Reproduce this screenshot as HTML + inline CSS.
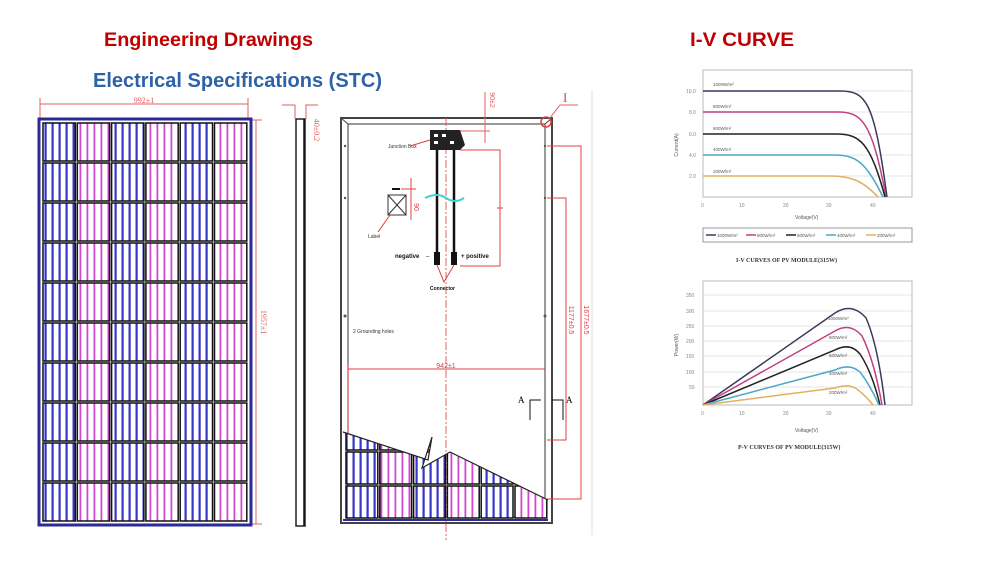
<!DOCTYPE html>
<html><head><meta charset="utf-8"><style>
html,body{margin:0;padding:0;background:#fff;width:996px;height:578px;overflow:hidden}
svg{display:block}
</style></head><body>
<svg width="996" height="578" viewBox="0 0 996 578" xmlns="http://www.w3.org/2000/svg" font-family="Liberation Sans, sans-serif">
<defs>
<pattern id="pb" width="7" height="10" patternUnits="userSpaceOnUse"><rect width="7" height="10" fill="#fff"/><rect x="2.5" width="2.2" height="10" fill="#3535c8"/></pattern>
<pattern id="pp" width="7" height="10" patternUnits="userSpaceOnUse"><rect width="7" height="10" fill="#fff"/><rect x="2.5" width="1.8" height="10" fill="#d048d0"/></pattern>
<clipPath id="cut"><polygon points="343,432 428,460 432,437 422,468 450,452 548,500 548,525 343,525"/></clipPath>
</defs>

<!-- titles -->
<text x="104" y="46" font-size="19" font-weight="bold" fill="#c00000" textLength="209" lengthAdjust="spacingAndGlyphs">Engineering Drawings</text>
<text x="93" y="87" font-size="20" font-weight="bold" fill="#2e62a8" textLength="289" lengthAdjust="spacingAndGlyphs">Electrical Specifications (STC)</text>
<text x="690" y="46" font-size="19" font-weight="bold" fill="#c00000" textLength="104" lengthAdjust="spacingAndGlyphs">I-V CURVE</text>

<!-- LEFT PANEL -->
<line x1="40" y1="104" x2="248" y2="104" stroke="#e06060" stroke-width="1"/>
<line x1="40" y1="98" x2="40" y2="118" stroke="#e06060"/>
<line x1="248" y1="98" x2="248" y2="118" stroke="#e06060"/>
<text x="144" y="103" font-size="8" fill="#e06060" text-anchor="middle" font-family="Liberation Serif, serif">992±1</text>
<line x1="256" y1="120" x2="256" y2="524" stroke="#e06060"/>
<line x1="250" y1="120" x2="262" y2="120" stroke="#e06060"/>
<line x1="250" y1="524" x2="262" y2="524" stroke="#e06060"/>
<text x="0" y="0" font-size="8" fill="#e06060" font-family="Liberation Serif, serif" transform="translate(261,322) rotate(90)" text-anchor="middle">1957±1</text>
<rect x="39" y="119" width="212" height="406" fill="#fff" stroke="#2a2a9a" stroke-width="3"/>
<g id="cells"></g>

<!-- SIDE VIEW -->
<rect x="296" y="119" width="9" height="407" fill="#fff" stroke="#222" stroke-width="1.5"/>
<line x1="304" y1="119" x2="304" y2="526" stroke="#111" stroke-width="1.5"/>
<path d="M282,105 L295,105 L295,119 M318,105 L306,105 L306,119" fill="none" stroke="#e06060"/>
<text x="0" y="0" font-size="8" fill="#e06060" font-family="Liberation Serif, serif" transform="translate(314,130) rotate(90)" text-anchor="middle">40±0.2</text>

<!-- BACK VIEW -->
<rect x="341" y="118" width="211" height="405" fill="#fff" stroke="#444" stroke-width="2"/>
<rect x="348" y="124" width="197" height="393" fill="none" stroke="#555" stroke-width="1.2"/>
<line x1="341" y1="118" x2="348" y2="124" stroke="#444"/>
<line x1="552" y1="118" x2="545" y2="124" stroke="#444"/>
<g fill="#555"><circle cx="345" cy="146" r="1.2"/><circle cx="345" cy="198" r="1.2"/><circle cx="345" cy="316" r="1.5"/><circle cx="545" cy="146" r="1.2"/><circle cx="545" cy="198" r="1.2"/><circle cx="545" cy="316" r="1.5"/></g>
<circle cx="546" cy="122" r="5" fill="none" stroke="#e04040" stroke-width="1.5"/>
<path d="M550,118 L560,105 L578,105" fill="none" stroke="#e06060"/>
<text x="563" y="102" font-size="13" fill="#e04040" font-family="Liberation Serif, serif">I</text>
<line x1="446" y1="118" x2="446" y2="540" stroke="#e06060" stroke-dasharray="8,2,2,2"/>
<line x1="485" y1="92" x2="485" y2="143" stroke="#e06060"/>
<line x1="455" y1="131" x2="490" y2="131" stroke="#e06060"/>
<text x="0" y="0" font-size="7" fill="#e06060" transform="translate(490,100) rotate(90)" text-anchor="middle">90±2</text>
<path d="M430,130 L460,130 L465,145 L460,150 L430,150 Z" fill="#222"/>
<g fill="#fff"><rect x="434" y="134" width="4" height="3"/><rect x="442" y="134" width="4" height="3"/><rect x="434" y="141" width="4" height="3"/><rect x="450" y="141" width="4" height="3"/></g>
<text x="388" y="148" font-size="5" fill="#333">Junction Box</text>
<line x1="410" y1="146" x2="430" y2="140" stroke="#e04040"/>
<line x1="437" y1="150" x2="437" y2="255" stroke="#111" stroke-width="2.5"/>
<line x1="454" y1="150" x2="454" y2="255" stroke="#111" stroke-width="2.5"/>
<rect x="434" y="252" width="6" height="13" fill="#111"/>
<rect x="451" y="252" width="6" height="13" fill="#111"/>
<text x="395" y="258" font-size="6" font-weight="bold" fill="#111">negative</text>
<text x="426" y="258" font-size="6" fill="#111">–</text>
<text x="461" y="258" font-size="6" font-weight="bold" fill="#111">+ positive</text>
<path d="M437,265 L444,282 L454,265" fill="none" stroke="#e04040"/>
<text x="430" y="290" font-size="5" font-weight="bold" fill="#111">Connector</text>
<path d="M425,198 Q437,192 446,198 Q455,204 464,198" fill="none" stroke="#40d0d0" stroke-width="2"/>
<path d="M460,150 L500,150 L500,266 L460,266" fill="none" stroke="#e04040"/>
<line x1="497" y1="208" x2="503" y2="208" stroke="#e04040"/>
<rect x="388" y="195" width="18" height="20" fill="#fff" stroke="#333"/>
<path d="M388,195 L406,215 M406,195 L388,215" stroke="#333"/>
<text x="368" y="238" font-size="5" fill="#333">Label</text>
<line x1="378" y1="232" x2="390" y2="215" stroke="#e04040"/>
<rect x="392" y="188" width="8" height="2" fill="#111"/>
<line x1="401" y1="189" x2="416" y2="189" stroke="#e04040"/>
<line x1="411" y1="178" x2="411" y2="220" stroke="#e04040"/>
<text x="0" y="0" font-size="7" fill="#e04040" transform="translate(414,207) rotate(90)" text-anchor="middle">90</text>
<text x="353" y="333" font-size="5" fill="#333">2 Grounding holes</text>
<path d="M547,146 L581,146 L581,499 L547,499" fill="none" stroke="#e04040"/>
<path d="M547,198 L566,198 L566,440 L547,440" fill="none" stroke="#e04040"/>
<text x="0" y="0" font-size="7" fill="#e04040" transform="translate(569,320) rotate(90)" text-anchor="middle">1177±0.5</text>
<text x="0" y="0" font-size="7" fill="#e04040" transform="translate(584,320) rotate(90)" text-anchor="middle">1677±0.5</text>
<line x1="592" y1="90" x2="592" y2="535" stroke="#ddd"/>
<line x1="348" y1="369" x2="545" y2="369" stroke="#e04040"/>
<line x1="348" y1="364" x2="348" y2="440" stroke="#e04040"/>
<text x="446" y="368" font-size="7" fill="#e04040" text-anchor="middle">942±1</text>
<path d="M530,420 L530,400 L541,400 M552,400 L563,400 L563,420" fill="none" stroke="#111"/>
<text x="518" y="403" font-size="9" font-family="Liberation Serif, serif">A</text>
<text x="566" y="403" font-size="9" font-family="Liberation Serif, serif">A</text>
<g clip-path="url(#cut)" id="cut2"></g>
<path d="M343,432 L428,460 L432,437 L422,468 L450,452 L548,500" fill="none" stroke="#222" stroke-width="1.2"/>
<line x1="343" y1="520" x2="548" y2="520" stroke="#2a2a9a" stroke-width="2"/>

<!-- IV CHART -->
<g font-size="5" fill="#888">
<rect x="703" y="70" width="209" height="127" fill="#fff" stroke="#bbb"/>
<g stroke="#ccc" stroke-width="0.6"><line x1="703" y1="91" x2="912" y2="91"/><line x1="703" y1="112" x2="912" y2="112"/><line x1="703" y1="134" x2="912" y2="134"/><line x1="703" y1="155" x2="912" y2="155"/><line x1="703" y1="176" x2="912" y2="176"/></g>
<text x="686" y="93">10.0</text><text x="689" y="114">8.0</text><text x="689" y="136">6.0</text><text x="689" y="157">4.0</text><text x="689" y="178">2.0</text>
<text x="701" y="207">0</text><text x="739" y="207">10</text><text x="783" y="207">20</text><text x="826" y="207">30</text><text x="870" y="207">40</text>
<text x="795" y="219" fill="#555">Voltage(V)</text>
<text x="0" y="0" fill="#555" transform="translate(678,145) rotate(-90)" text-anchor="middle">Current(A)</text>
<g fill="none" stroke-width="1.5">
<path d="M703,91 L840,91 C866,91 874,100 887,197" stroke="#3a3a5e"/>
<path d="M703,112 L838,112 C862,112 872,122 886,197" stroke="#c04080"/>
<path d="M703,134 L836,134 C860,134 870,142 885,197" stroke="#222"/>
<path d="M703,155 L834,155 C856,155 866,162 883,197" stroke="#48a8c8"/>
<path d="M703,176 L830,176 C850,176 862,180 878,197" stroke="#e0b060"/>
</g>
<g fill="#555" font-size="4.5"><text x="713" y="86">1000W/m²</text><text x="713" y="108">800W/m²</text><text x="713" y="130">600W/m²</text><text x="713" y="151">400W/m²</text><text x="713" y="173">200W/m²</text></g>
<rect x="703" y="228" width="209" height="14" fill="#fff" stroke="#999"/>
<g stroke-width="1.5"><line x1="706" y1="235" x2="716" y2="235" stroke="#3a3a5e"/><line x1="746" y1="235" x2="756" y2="235" stroke="#c04080"/><line x1="786" y1="235" x2="796" y2="235" stroke="#222"/><line x1="826" y1="235" x2="836" y2="235" stroke="#48a8c8"/><line x1="866" y1="235" x2="876" y2="235" stroke="#e0b060"/></g>
<g fill="#555" font-size="4.5"><text x="717" y="237">1000W/m²</text><text x="757" y="237">800W/m²</text><text x="797" y="237">600W/m²</text><text x="837" y="237">400W/m²</text><text x="877" y="237">200W/m²</text></g>
<text x="736" y="262" font-size="6" font-weight="bold" fill="#333" font-family="Liberation Serif, serif">I-V CURVES OF PV MODULE(315W)</text>

<!-- PV CHART -->
<rect x="703" y="281" width="209" height="124" fill="#fff" stroke="#bbb"/>
<g stroke="#ccc" stroke-width="0.6"><line x1="703" y1="295" x2="912" y2="295"/><line x1="703" y1="311" x2="912" y2="311"/><line x1="703" y1="326" x2="912" y2="326"/><line x1="703" y1="341" x2="912" y2="341"/><line x1="703" y1="356" x2="912" y2="356"/><line x1="703" y1="372" x2="912" y2="372"/><line x1="703" y1="387" x2="912" y2="387"/></g>
<text x="686" y="297">350</text><text x="686" y="313">300</text><text x="686" y="328">250</text><text x="686" y="343">200</text><text x="686" y="358">150</text><text x="686" y="374">100</text><text x="689" y="389">50</text>
<text x="701" y="415">0</text><text x="739" y="415">10</text><text x="783" y="415">20</text><text x="826" y="415">30</text><text x="870" y="415">40</text>
<text x="795" y="432" fill="#555">Voltage(V)</text>
<text x="0" y="0" fill="#555" transform="translate(678,345) rotate(-90)" text-anchor="middle">Power(W)</text>
<g fill="none" stroke-width="1.5">
<path d="M703,405 L835,313 Q852,302 866,318 Q878,345 885,405" stroke="#3a3a5e"/>
<path d="M703,405 L835,331 Q850,322 862,336 Q874,360 882,405" stroke="#c04080"/>
<path d="M703,405 L835,350 Q850,342 860,354 Q872,372 880,405" stroke="#222"/>
<path d="M703,405 L835,370 Q850,363 860,372 Q870,385 879,405" stroke="#48a8c8"/>
<path d="M703,405 L835,388 Q850,383 858,390 Q866,396 873,405" stroke="#e0b060"/>
</g>
<g fill="#555" font-size="4.5"><text x="828" y="320">1000W/m²</text><text x="829" y="339">800W/m²</text><text x="829" y="357">600W/m²</text><text x="829" y="375">400W/m²</text><text x="829" y="394">200W/m²</text></g>
<text x="738" y="449" font-size="6" font-weight="bold" fill="#333" font-family="Liberation Serif, serif">P-V CURVES OF PV MODULE(315W)</text>
</g>
</svg>
<script>
(function(){
var ns="http://www.w3.org/2000/svg";
function cell(g,x,y,w,h,pink){
 var r=document.createElementNS(ns,"rect");
 r.setAttribute("x",x);r.setAttribute("y",y);r.setAttribute("width",w);r.setAttribute("height",h);
 r.setAttribute("fill",pink?"url(#pp)":"url(#pb)");r.setAttribute("stroke","#111");r.setAttribute("stroke-width","1.5");
 g.appendChild(r);
}
var g=document.getElementById("cells");
var x0=42,y0=122,cw=34.3,ch=40;
for(var c=0;c<6;c++)for(var r=0;r<10;r++)cell(g,x0+c*cw+1,y0+r*ch+1,cw-2,ch-2,c%2==1);
var g2=document.getElementById("cut2");
var cw2=33.8;
for(var c=0;c<6;c++)for(var r=0;r<3;r++)cell(g2,345+c*cw2+1,418+r*34,cw2-2,32,c%2==1);
})();
</script>
</body></html>
